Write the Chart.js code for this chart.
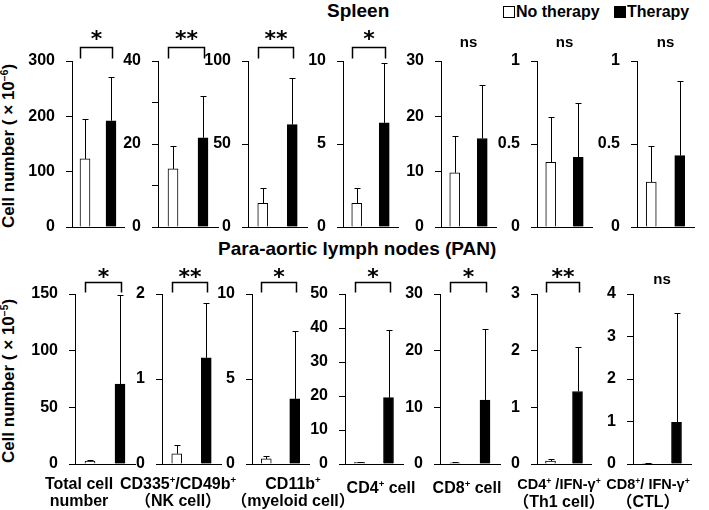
<!DOCTYPE html>
<html>
<head>
<meta charset="utf-8">
<script src="https://cdn.jsdelivr.net/npm/chart.js@4.4.0/dist/chart.umd.min.js"></script>
<style>
  body { margin: 0; background: #fff; }
  #fig { position: relative; width: 709px; height: 510px; overflow: hidden;
         font-family: "Liberation Sans", Arial, "Noto Sans CJK JP", sans-serif; font-weight: bold; color: #000; }
  #fig canvas { position: absolute; }
  .txt { position: absolute; white-space: nowrap; }
  .title { font-size: 19px; }
  .ytitle { font-size: 17px; width: 220px; height: 20px; line-height: 20px; text-align: center; transform: rotate(-90deg); }
  .xlab { font-size: 16px; line-height: 17px; text-align: center; width: 160px; }
  .xlab.narrow { font-size: 14.5px; }
  sup { font-size: 60%; line-height: 0; vertical-align: 0.6em; }
  .box { position: absolute; width: 10px; height: 10px; border: 1.5px solid #000; }
</style>
</head>
<body>
<div id="fig">
  <div class="txt title" style="left:327px;top:0px;">Spleen</div>
  <div class="txt title" style="left:218px;top:238px;">Para-aortic lymph nodes (PAN)</div>

  <div class="box" style="left:503px;top:6px;background:#fff;"></div>
  <div class="txt" style="left:516px;top:3px;font-size:16px;">No therapy</div>
  <div class="box" style="left:614px;top:6px;background:#000;"></div>
  <div class="txt" style="left:627px;top:3px;font-size:16px;">Therapy</div>

  <div class="txt ytitle" style="left:-101px;top:136px;">Cell number ( × 10<sup>−6</sup>)</div>
  <div class="txt ytitle" style="left:-101px;top:371px;">Cell number ( × 10<sup>−5</sup>)</div>
</div>

<script>
// groups and cell populations
const groups = ['No therapy', 'Therapy'];
const cellLine1 = ['Total cell', 'CD335<sup>+</sup>/CD49b<sup>+</sup>', 'CD11b<sup>+</sup>', 'CD4<sup>+</sup> cell',
                   'CD8<sup>+</sup> cell', 'CD4<sup>+</sup> /IFN-γ<sup>+</sup>', 'CD8<sup>+</sup>/ IFN-γ<sup>+</sup>'];
const cellLine2 = ['number', '（NK cell）', '（myeloid cell）', '', '', '（Th1 cell）', '（CTL）'];

// spleen (x10^-6)
const spleenNoTherapy   = [123, 14.0, 14.2, 1.43, 9.8, 0.39, 0.27];
const spleenNoTherapySD = [72, 5.5, 9.1, 0.92, 6.7, 0.275, 0.22];
const spleenTherapy     = [192, 21.5, 61.7, 6.27, 16.0, 0.42, 0.43];
const spleenTherapySD   = [79, 10.1, 28.3, 3.63, 9.6, 0.33, 0.45];
const spleenMax   = [300, 40, 100, 10, 30, 1, 1];
const spleenStep  = [100, 10, 50, 5, 10, 0.5, 0.5];
const spleenLabelStep = [100, 20, 50, 5, 10, 0.5, 0.5];
const spleenSig   = ['*', '**', '**', '*', 'ns', 'ns', 'ns'];

// para-aortic lymph nodes (x10^-5)
const panNoTherapy   = [2.5, 0.12, 0.3, 0.5, 0.2, 0.05, 0.015];
const panNoTherapySD = [1.0, 0.10, 0.2, 0.2, 0.1, 0.03, 0.005];
const panTherapy     = [70.6, 1.25, 3.83, 19.5, 11.3, 1.28, 0.98];
const panTherapySD   = [78.4, 0.64, 4.0, 19.9, 12.6, 0.79, 2.57];
const panMax   = [150, 2, 10, 50, 30, 3, 4];
const panStep  = [50, 1, 5, 10, 10, 1, 1];
const panSig   = ['*', '**', '*', '*', '*', '**', 'ns'];

// panel placement
const topAxisX = [72, 158, 248, 343, 441, 537, 637];
const topPlotW = [52, 60, 59, 55, 55, 55, 57];
const botAxisX = [75, 162, 252, 345, 440, 537, 633];
const botPlotW = [60, 59, 57, 58, 60, 54, 58];
const xLabelCenter = [79, 178, 293, 381, 467, 559, 648];

const AXIS_W = 50;
const PAD_BOTTOM = 22;

// error bars (upward only), brackets and significance marks
const sigPlugin = {
  id: 'sig',
  afterDatasetsDraw(chart, args, o) {
    const ctx = chart.ctx;
    const meta = chart.getDatasetMeta(0);
    const yScale = chart.scales.y;
    const vals = chart.data.datasets[0].data;
    ctx.save();
    ctx.strokeStyle = '#000';
    ctx.lineWidth = 1;
    meta.data.forEach((bar, i) => {
      const yt = Math.round(yScale.getPixelForValue(vals[i] + o.sd[i])) + 0.5;
      const x = Math.round(bar.x) + 0.5;
      ctx.beginPath();
      ctx.moveTo(x, bar.y);
      ctx.lineTo(x, yt);
      ctx.moveTo(x - 3, yt);
      ctx.lineTo(x + 3, yt);
      ctx.stroke();
    });

    const top = chart.chartArea.top;
    const x0 = meta.data[0].x, x1 = meta.data[1].x;
    ctx.fillStyle = '#000';
    ctx.textAlign = 'center';
    ctx.textBaseline = 'alphabetic';
    if (o.label === 'ns') {
      ctx.font = 'bold 15px "Liberation Sans", Arial, sans-serif';
      ctx.fillText('ns', (x0 + x1) / 2, top - o.nsOff);
    } else {
      const bx0 = Math.round(x0 - 5) + 0.5, bx1 = Math.round(x1 + 1) + 0.5;
      const by = Math.round(top - o.brOff) + 0.5;
      ctx.lineWidth = 1.5;
      ctx.beginPath();
      ctx.moveTo(bx0, by + o.leg);
      ctx.lineTo(bx0, by);
      ctx.lineTo(bx1, by);
      ctx.lineTo(bx1, by + o.leg);
      ctx.stroke();
      ctx.font = 'bold 22px "DejaVu Sans", sans-serif';
      ctx.fillText(o.label, (bx0 + bx1) / 2, top - o.starOff);
    }
    ctx.restore();
  }
};

function makePanel(row, i) {
  const isTop = row === 'top';
  const axisX = isTop ? topAxisX[i] : botAxisX[i];
  const plotW = isTop ? topPlotW[i] : botPlotW[i];
  const chartTop = isTop ? 61 : 294;
  const chartBottom = isTop ? 227 : 464;
  const canvasTop = isTop ? 18 : 258;
  const canvas = document.createElement('canvas');
  const w = AXIS_W + plotW + 4;
  const h = chartBottom + PAD_BOTTOM - canvasTop;
  canvas.width = w; canvas.height = h;
  canvas.style.left = (axisX - AXIS_W) + 'px';
  canvas.style.top = canvasTop + 'px';
  canvas.style.width = w + 'px'; canvas.style.height = h + 'px';
  document.getElementById('fig').appendChild(canvas);

  const nt = isTop ? spleenNoTherapy[i] : panNoTherapy[i];
  const t = isTop ? spleenTherapy[i] : panTherapy[i];
  const sd = isTop ? [spleenNoTherapySD[i], spleenTherapySD[i]] : [panNoTherapySD[i], panTherapySD[i]];
  const max = isTop ? spleenMax[i] : panMax[i];
  const step = isTop ? spleenStep[i] : panStep[i];
  const labelStep = isTop ? spleenLabelStep[i] : panStep[i];
  const sig = isTop ? spleenSig[i] : panSig[i];

  new Chart(canvas.getContext('2d'), {
    type: 'bar',
    data: {
      labels: groups,
      datasets: [{
        data: [nt, t],
        backgroundColor: ['#fff', '#000'],
        borderColor: '#000',
        borderWidth: 1,
        barThickness: 10
      }]
    },
    options: {
      responsive: false,
      animation: false,
      devicePixelRatio: 1,
      layout: { padding: { top: chartTop - canvasTop, bottom: PAD_BOTTOM, left: 0, right: 4 } },
      plugins: {
        legend: { display: false },
        tooltip: { enabled: false },
        sig: isTop
          ? { sd: sd, label: sig, brOff: 14, leg: 11, starOff: 15.5, nsOff: 14.5 }
          : { sd: sd, label: sig, brOff: 12, leg: 10, starOff: 10.5, nsOff: 10 }
      },
      scales: {
        x: {
          grid: { display: false },
          border: { display: true, color: '#000', width: 1 },
          ticks: { display: false },
          afterFit: (s) => { s.height = 0; }
        },
        y: {
          min: 0,
          max: max,
          afterFit: (s) => { s.width = AXIS_W; },
          grid: { display: true, drawOnChartArea: false, drawTicks: true, tickLength: 6, color: '#000' },
          border: { display: true, color: '#000', width: 1 },
          ticks: {
            stepSize: step,
            padding: 11,
            color: '#000',
            font: { family: '"Liberation Sans", Arial, sans-serif', size: 16, weight: 'bold' },
            callback: (v) => {
              const r = v / labelStep;
              return Math.abs(r - Math.round(r)) < 1e-6 ? String(v) : '';
            }
          }
        }
      }
    },
    plugins: [sigPlugin]
  });
}

for (let i = 0; i < 7; i++) {
  makePanel('top', i);
  makePanel('bottom', i);
}

// category labels under the lymph node row
const fig = document.getElementById('fig');
cellLine1.forEach((lab, i) => {
  const d = document.createElement('div');
  d.className = 'txt xlab';
  const l1 = document.createElement('span');
  if (i >= 5) l1.className = 'xlab narrow';
  l1.style.position = 'static';
  l1.innerHTML = lab;
  d.style.left = (xLabelCenter[i] - 80) + 'px';
  d.style.top = (cellLine2[i] ? 475 : 479) + 'px';
  d.appendChild(l1);
  if (cellLine2[i]) d.insertAdjacentHTML('beforeend', '<br>' + cellLine2[i]);
  fig.appendChild(d);
});
</script>
</body>
</html>
